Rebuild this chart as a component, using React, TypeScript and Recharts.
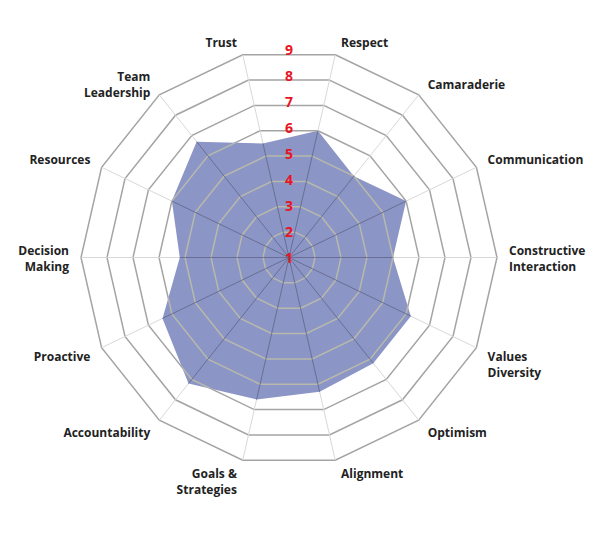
import React from 'react';
import { RadarChart, Radar, PolarGrid, PolarAngleAxis, PolarRadiusAxis } from 'recharts';

const categories = [
  'Respect',
  'Camaraderie',
  'Communication',
  'Constructive Interaction',
  'Values Diversity',
  'Optimism',
  'Alignment',
  'Goals & Strategies',
  'Accountability',
  'Proactive',
  'Decision Making',
  'Resources',
  'Team Leadership',
  'Trust',
];

const categoryLabels = [
  'Respect',
  'Camaraderie',
  'Communication',
  'Constructive\nInteraction',
  'Values\nDiversity',
  'Optimism',
  'Alignment',
  'Goals &\nStrategies',
  'Accountability',
  'Proactive',
  'Decision\nMaking',
  'Resources',
  'Team\nLeadership',
  'Trust',
];

const scores = [6.0, 5.0, 6.0, 5.0, 6.2, 6.2, 6.3, 6.6, 7.2, 6.4, 5.2, 6.0, 6.7, 5.5];

const radiusTicks = [1, 2, 3, 4, 5, 6, 7, 8, 9];

const data = categories.map((c, i) => ({ category: c, score: scores[i] }));

const FONT = '"Open Sans", "Noto Sans", Arial, sans-serif';
const FILL = '#8b96c6';
const START = 90 - 180 / categories.length;

const AngleTick = (props: any) => {
  const { x, y, payload } = props;
  const idx = typeof props.index === 'number' ? props.index : categories.indexOf(payload.value);
  const ang = (payload.coordinate * Math.PI) / 180;
  const c = Math.cos(ang);
  const s = Math.sin(ang);
  const vx = x - 8 * c;
  const vy = y + 8 * s;
  const lines = (categoryLabels[idx] ?? String(payload.value)).split('\n');
  const anchor = c > 0.1 ? 'start' : c < -0.1 ? 'end' : 'middle';
  const tx = vx + (Math.abs(c) > 0.1 ? Math.sign(c) * (4 + 8 * Math.abs(c)) : 0);
  const L = 16;
  let firstY: number;
  if (s > 0.1) {
    const center = vy - 13 * Math.pow(s, 0.6);
    firstY = center - ((lines.length - 1) * L) / 2;
  } else if (s < -0.1) {
    firstY = vy + 13 * Math.pow(-s, 0.5);
  } else {
    firstY = vy - ((lines.length - 1) * L) / 2;
  }
  return (
    <text
      textAnchor={anchor}
      dominantBaseline="central"
      fill="#222222"
      fontSize={12}
      fontWeight={700}
      fontFamily={FONT}
    >
      {lines.map((l, i) => (
        <tspan key={i} x={tx} y={firstY + i * L}>
          {l}
        </tspan>
      ))}
    </text>
  );
};

const RadiusTick = (props: any) => (
  <text
    x={props.x}
    y={props.y}
    textAnchor="middle"
    dominantBaseline="central"
    fill="#e8141f"
    fontSize={14}
    fontWeight={700}
    fontFamily={FONT}
  >
    {props.payload.value}
  </text>
);

const RadarShape = (props: any) => {
  const pts = (props.points || []).map((p: any) => `${p.x},${p.y}`).join(' ');
  return (
    <g>
      <defs>
        <clipPath id="radarClip">
          <polygon points={pts} />
        </clipPath>
      </defs>
      <polygon points={pts} fill={FILL} stroke="none" />
    </g>
  );
};

export default function App() {
  return (
    <div style={{ position: 'absolute', left: 0, top: 0, width: 600, height: 533, background: '#fff' }}>
      <RadarChart
        width={600}
        height={533}
        data={data}
        cx={289}
        cy={257.5}
        outerRadius={208}
        startAngle={START}
        endAngle={START - 360}
        margin={{ top: 0, right: 0, bottom: 0, left: 0 }}
      >
        <PolarGrid gridType="polygon" radialLines={false} stroke="#a4a4a4" strokeWidth={1.5} />
        <PolarGrid gridType="polygon" polarRadius={[]} stroke="#d8d8d8" strokeWidth={1} />
        <PolarAngleAxis dataKey="category" tick={<AngleTick />} tickLine={false} axisLine={false} />
        <PolarRadiusAxis
          angle={90}
          domain={[1, 9]}
          ticks={radiusTicks as any}
          tickCount={9}
          type="number"
          axisLine={false}
          tickLine={false}
          tick={<RadiusTick />}
          zIndex={600}
        />
        <Radar
          dataKey="score"
          fill={FILL}
          stroke="none"
          fillOpacity={1}
          dot={false}
          shape={<RadarShape />}
          isAnimationActive={false}
        />
        <PolarGrid
          gridType="polygon"
          radialLines={false}
          stroke="#b8b8ab"
          strokeWidth={1.5}
          clipPath="url(#radarClip)"
          zIndex={300}
        />
        <PolarGrid
          gridType="polygon"
          polarRadius={[]}
          stroke="#5f6585"
          strokeWidth={0.8}
          clipPath="url(#radarClip)"
          zIndex={300}
        />
      </RadarChart>
    </div>
  );
}
